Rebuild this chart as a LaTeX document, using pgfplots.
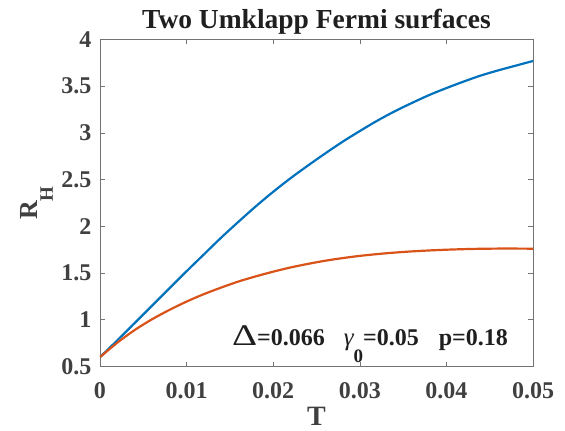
\documentclass[border=0pt]{standalone}
\usepackage{fontspec}
\setmainfont{Liberation Serif}
\usepackage{pgfplots}
\pgfplotsset{compat=1.18}
\definecolor{mblue}{rgb}{0,0.447,0.741}
\definecolor{morange}{rgb}{0.85,0.325,0.098}
\definecolor{axgray}{gray}{0.45}
\definecolor{tickgray}{gray}{0.25}
\definecolor{titlegray}{gray}{0.12}

\pgfplotstableread{
T R
0     0.60
0.002 0.78
0.004 0.965
0.006 1.15
0.008 1.335
0.010 1.52
0.012 1.70
0.014 1.88
0.016 2.05
0.018 2.215
0.020 2.37
0.022 2.515
0.024 2.65
0.026 2.78
0.028 2.905
0.030 3.02
0.032 3.13
0.034 3.23
0.036 3.32
0.038 3.405
0.040 3.48
0.042 3.55
0.044 3.615
0.046 3.67
0.048 3.72
0.050 3.77
}\blue

\pgfplotstableread{
T R
0     0.60
0.002 0.755
0.004 0.89
0.006 1.005
0.008 1.105
0.010 1.195
0.012 1.275
0.014 1.345
0.016 1.41
0.018 1.465
0.020 1.515
0.022 1.56
0.024 1.598
0.026 1.632
0.028 1.66
0.030 1.684
0.032 1.703
0.034 1.719
0.036 1.732
0.038 1.742
0.040 1.75
0.042 1.756
0.044 1.76
0.046 1.762
0.048 1.762
0.050 1.761
}\orange

\begin{document}
\begin{tikzpicture}
\path[use as bounding box] (-100pt,-64.5pt) rectangle (465pt,366.5pt);
\begin{axis}[
  at={(0,0)}, anchor=south west,
  scale only axis, width=433pt, height=327pt,
  xmin=0, xmax=0.05, ymin=0.5, ymax=4,
  xtick={0,0.01,0.02,0.03,0.04,0.05},
  ytick={0.5,1,1.5,2,2.5,3,3.5,4},
  tick align=inside, major tick length=5pt,
  axis line style={axgray, line width=0.6pt},
  every tick/.style={axgray, line width=0.6pt},
  scaled x ticks=false,
  xticklabel style={/pgf/number format/fixed, /pgf/number format/precision=2,
    anchor=base, yshift=-31.5pt},
  yticklabel style={/pgf/number format/fixed, /pgf/number format/precision=1,
    anchor=east, inner sep=0pt, xshift=-8.3pt},
  /pgf/number format/assume math mode=true,
  ticklabel style={font=\fontsize{24}{24}\selectfont\bfseries, text=tickgray},
  title={Two Umklapp Fermi surfaces},
  title style={font=\fontsize{27.5}{27.5}\selectfont\bfseries, text=titlegray,
    at={(axis description cs:0.5,1.0168)}, anchor=base},
  xlabel={T},
  xlabel style={font=\fontsize{28}{28}\selectfont\bfseries, text=tickgray,
    at={(axis description cs:0.5,-0.181)}, anchor=base},
  ylabel={R\raisebox{-15pt}{\fontsize{19}{19}\selectfont H}},
  ylabel style={font=\fontsize{26}{26}\selectfont\bfseries, text=tickgray,
    at={(axis description cs:-0.1432,0.5)}, anchor=base},
]
\addplot[mblue, line width=2.2pt, smooth] table[x=T,y=R] {\blue};
\addplot[morange, line width=2.2pt, smooth] table[x=T,y=R] {\orange};
\node[anchor=base west, inner sep=0pt, text=titlegray,
  font=\fontsize{24}{24}\selectfont\bfseries] at (axis cs:0.01523,0.72)
  {\scalebox{1.3}[1]{\fontsize{30}{30}\selectfont\mdseries Δ}=0.066\hspace{19pt}{\fontsize{25}{25}\selectfont\mdseries\itshape γ}\raisebox{-17pt}{\fontsize{19}{19}\selectfont 0}=0.05\hspace{20pt}p=0.18};
\end{axis}
\end{tikzpicture}
\end{document}
